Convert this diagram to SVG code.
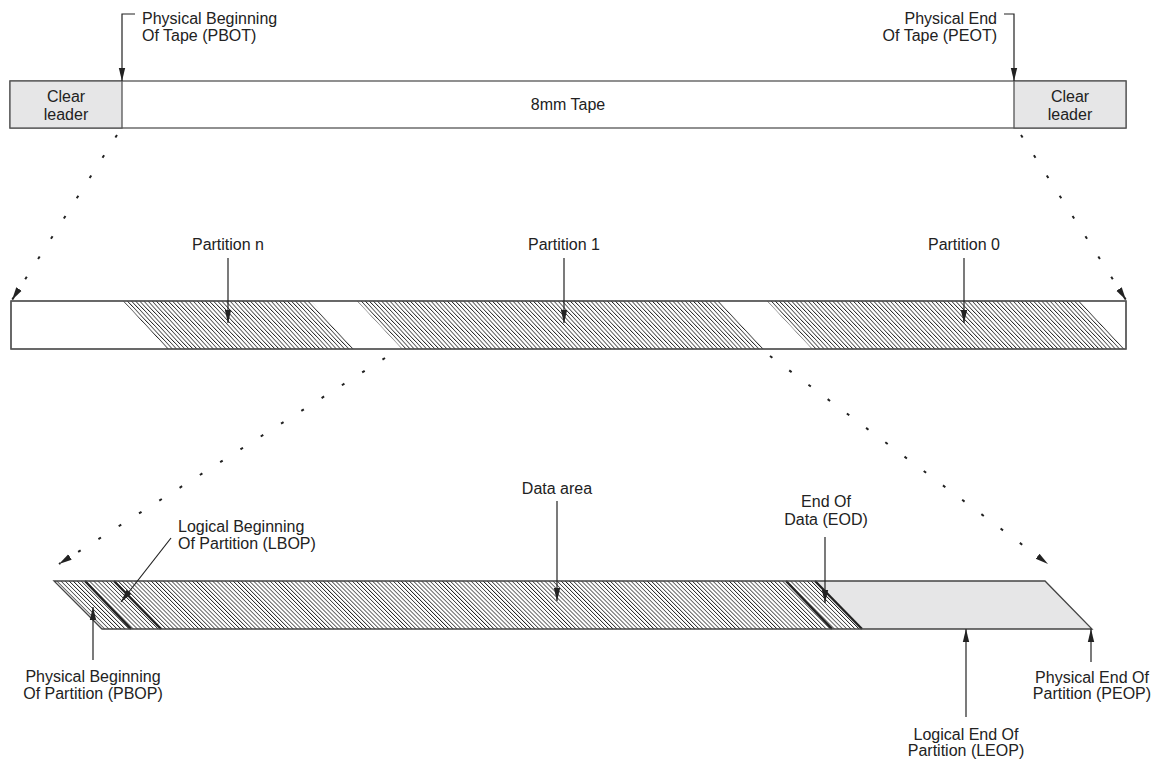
<svg xmlns="http://www.w3.org/2000/svg" width="1158" height="761" viewBox="0 0 1158 761">
<style>
text{font-family:"Liberation Sans",Arial,sans-serif;font-size:16px;fill:#222}
.c{text-anchor:middle}
.e{text-anchor:end}
.bar{fill:#fff;stroke:#555;stroke-width:1.3}
.gray{fill:#e6e6e7;stroke:#555;stroke-width:1.3}
.ln{fill:none;stroke:#222;stroke-width:1.2}
.dot{fill:none;stroke:#222;stroke-width:2;stroke-dasharray:3 21}
.thick{stroke:#222;stroke-width:2.4}
</style>
<defs>
<marker id="ah" markerUnits="userSpaceOnUse" markerWidth="14" markerHeight="8" viewBox="0 0 14 8" refX="13" refY="4" orient="auto">
<path d="M0,0.8 L13,4 L0,7.2 Z" fill="#222"/>
</marker>
<pattern id="h1" patternUnits="userSpaceOnUse" width="4.1" height="100" patternTransform="skewX(43.2)">
<rect x="0" y="0" width="1" height="100" fill="#222"/>
</pattern>
<pattern id="h2" patternUnits="userSpaceOnUse" width="4.1" height="100" patternTransform="skewX(45)">
<rect x="0" y="0" width="1" height="100" fill="#222"/>
</pattern>
</defs>

<g id="tape-top">
<rect class="bar" x="10" y="81" width="1116" height="47"/>
<rect class="gray" x="10" y="81" width="112" height="47"/>
<rect class="gray" x="1014" y="81" width="112" height="47"/>
<text class="c" x="66" y="102">Clear</text>
<text class="c" x="66" y="120">leader</text>
<text class="c" x="1070" y="102">Clear</text>
<text class="c" x="1070" y="120">leader</text>
<text class="c" x="568" y="110">8mm Tape</text>
</g>

<g id="label-pbot">
<text x="142" y="24">Physical Beginning</text>
<text x="142" y="41">Of Tape (PBOT)</text>
</g>
<g id="label-peot">
<text class="e" x="997" y="24">Physical End</text>
<text class="e" x="997" y="41">Of Tape (PEOT)</text>
</g>

<g id="tape-middle">
<rect class="bar" x="11" y="301" width="1115" height="48"/>
<path d="M123,301 L311,301 L355,349 L167,349 Z" fill="url(#h1)"/>
<path d="M357,301 L720,301 L765,349 L402,349 Z" fill="url(#h1)"/>
<path d="M767,301 L1080,301 L1125,349 L812,349 Z" fill="url(#h1)"/>
<rect x="11" y="301" width="1115" height="48" fill="none" stroke="#555" stroke-width="1.3"/>
</g>

<g id="label-partitions">
<text class="c" x="228" y="250">Partition n</text>
<text class="c" x="564" y="250">Partition 1</text>
<text class="c" x="964" y="250">Partition 0</text>
</g>

<g id="tape-bottom">
<path d="M54,581 L1045,581 L1092,629 L102,629 Z" fill="#e6e6e7"/>
<path d="M54,581 L815,581 L862,629 L102,629 Z" fill="#fff"/>
<path d="M54,581 L815,581 L862,629 L102,629 Z" fill="url(#h2)"/>
<line class="thick" x1="85" y1="581" x2="131" y2="629"/>
<line class="thick" x1="114" y1="581" x2="161" y2="629"/>
<line class="thick" x1="786" y1="581" x2="832" y2="629"/>
<line class="thick" x1="815" y1="581" x2="862" y2="629"/>
<path d="M54,581 L1045,581 L1092,629 L102,629 Z" fill="none" stroke="#444" stroke-width="1.3"/>
</g>

<g id="label-lbop">
<text x="178" y="532">Logical Beginning</text>
<text x="178" y="549">Of Partition (LBOP)</text>
</g>
<g id="label-data">
<text class="c" x="557" y="494">Data area</text>
</g>
<g id="label-eod">
<text class="c" x="826" y="507">End Of</text>
<text class="c" x="826" y="525">Data (EOD)</text>
</g>
<g id="label-pbop">
<text class="c" x="93" y="682">Physical Beginning</text>
<text class="c" x="93" y="699">Of Partition (PBOP)</text>
</g>
<g id="label-leop">
<text class="c" x="966" y="740">Logical End Of</text>
<text class="c" x="966" y="756">Partition (LEOP)</text>
</g>
<g id="label-peop">
<text class="c" x="1092" y="683">Physical End Of</text>
<text class="c" x="1092" y="699">Partition (PEOP)</text>
</g>

<g id="connectors">
<path class="ln" d="M135,14 H122 V81" marker-end="url(#ah)"/>
<path class="ln" d="M1004,14 H1014 V81" marker-end="url(#ah)"/>
<line class="dot" x1="117" y1="135" x2="12" y2="300" marker-end="url(#ah)"/>
<line class="dot" x1="1021" y1="135" x2="1126" y2="300" marker-end="url(#ah)"/>
<line class="ln" x1="228" y1="258" x2="228" y2="323" marker-end="url(#ah)"/>
<line class="ln" x1="564" y1="258" x2="564" y2="323" marker-end="url(#ah)"/>
<line class="ln" x1="964" y1="258" x2="964" y2="323" marker-end="url(#ah)"/>
<line class="dot" x1="385" y1="358" x2="59" y2="564" marker-end="url(#ah)"/>
<line class="dot" x1="770" y1="356" x2="1048" y2="564" marker-end="url(#ah)"/>
<line class="ln" x1="557" y1="501" x2="557" y2="601" marker-end="url(#ah)"/>
<line class="ln" x1="825" y1="537" x2="825" y2="603" marker-end="url(#ah)"/>
<line class="ln" x1="171" y1="538" x2="121" y2="602" marker-end="url(#ah)"/>
<line class="ln" x1="93" y1="660" x2="93" y2="607" marker-end="url(#ah)"/>
<line class="ln" x1="966" y1="717" x2="966" y2="629" marker-end="url(#ah)"/>
<line class="ln" x1="1091" y1="662" x2="1091" y2="629" marker-end="url(#ah)"/>
</g>
</svg>
